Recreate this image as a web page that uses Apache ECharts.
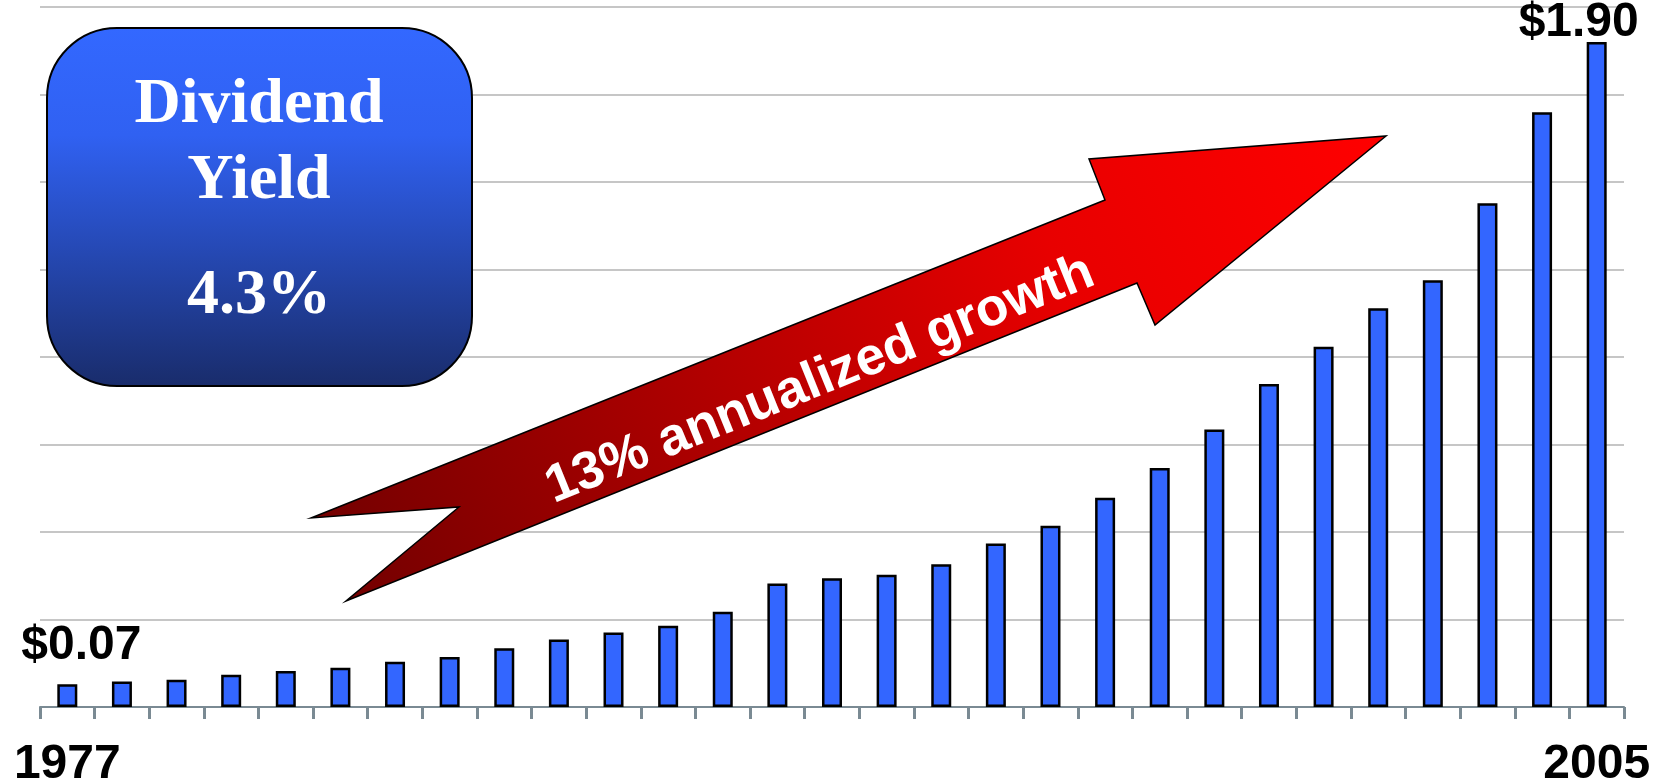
<!DOCTYPE html>
<html>
<head>
<meta charset="utf-8">
<title>Dividend growth 1977-2005</title>
<script src="https://cdn.jsdelivr.net/npm/echarts@6.0.0/dist/echarts.min.js"></script>
<style>
  html, body { margin: 0; padding: 0; background: #fff; }
  #chart_dividend { width: 1663px; height: 782px; }
</style>
</head>
<body>
<div id="chart_dividend"></div>
<script>
// annual dividend per share
var years = ['1977', '1978', '1979', '1980', '1981', '1982', '1983', '1984', '1985', '1986',
  '1987', '1988', '1989', '1990', '1991', '1992', '1993', '1994', '1995', '1996',
  '1997', '1998', '1999', '2000', '2001', '2002', '2003', '2004', '2005'];
var dividends = [0.065, 0.073, 0.078, 0.092, 0.103, 0.112, 0.129, 0.143, 0.168, 0.193,
  0.213, 0.232, 0.272, 0.353, 0.368, 0.378, 0.408, 0.467, 0.518, 0.598,
  0.683, 0.793, 0.923, 1.029, 1.139, 1.219, 1.439, 1.699, 1.90];
var endLabels = ['$0.07', '$1.90'];
var yieldText = ['Dividend', 'Yield', '4.3%'];
var growthText = '13% annualized growth';

var myChart = echarts.init(document.getElementById('chart_dividend'));

var labelFont = {
  show: true,
  position: 'top',
  distance: 0,
  color: '#000',
  fontFamily: 'Liberation Sans, Arial, sans-serif',
  fontWeight: 'bold',
  fontSize: 48
};

var barData = dividends.map(function (v, i) {
  if (i === 0) {
    return { value: v, label: Object.assign({}, labelFont, { formatter: endLabels[0], offset: [14, -14] }) };
  }
  if (i === dividends.length - 1) {
    return { value: v, label: Object.assign({}, labelFont, { formatter: endLabels[1], offset: [-18, 5] }) };
  }
  return v;
});

var serif = 'Liberation Serif, Times New Roman, serif';

var option = {
  animation: false,
  grid: { left: 40, right: 39, top: 7, bottom: 75, outerBoundsMode: 'none' },
  xAxis: {
    type: 'category',
    data: years,
    axisLine: { lineStyle: { color: '#7a8a93', width: 2 } },
    axisTick: { show: true, interval: 0, length: 12, lineStyle: { color: '#7a8a93', width: 3 } },
    axisLabel: {
      interval: function (index) { return index === 0 || index === years.length - 1; },
      margin: 34,
      color: '#000',
      fontFamily: 'Liberation Sans, Arial, sans-serif',
      fontWeight: 'bold',
      fontSize: 48
    }
  },
  yAxis: {
    type: 'value',
    min: 0,
    max: 2,
    interval: 0.25,
    axisLabel: { show: false },
    axisLine: { show: false },
    axisTick: { show: false },
    splitLine: { lineStyle: { color: '#c6c6c6', width: 2 } }
  },
  series: [
    {
      name: 'Dividend',
      type: 'bar',
      barWidth: 20,
      itemStyle: { color: '#3366ff', borderColor: '#000', borderWidth: 2.5 },
      data: barData
    }
  ],
  graphic: [
    {
      type: 'rect',
      z: 100,
      shape: { x: 47, y: 28, width: 425, height: 358, r: 70 },
      style: {
        fill: new echarts.graphic.LinearGradient(0, 0, 0, 1, [
          { offset: 0, color: '#3368ff' },
          { offset: 0.3, color: '#3061f2' },
          { offset: 1, color: '#192c6b' }
        ]),
        stroke: '#000',
        lineWidth: 2
      }
    },
    {
      type: 'text', z: 101, x: 259, y: 105,
      style: { text: yieldText[0], fill: '#fff', font: 'bold 64px ' + serif, align: 'center', verticalAlign: 'middle' }
    },
    {
      type: 'text', z: 101, x: 259, y: 181,
      style: { text: yieldText[1], fill: '#fff', font: 'bold 64px ' + serif, align: 'center', verticalAlign: 'middle' }
    },
    {
      type: 'text', z: 101, x: 259, y: 296,
      style: { text: yieldText[2], fill: '#fff', font: 'bold 64px ' + serif, align: 'center', verticalAlign: 'middle' }
    },
    {
      type: 'polygon',
      z: 100,
      shape: {
        points: [[311, 518], [1105, 200], [1089, 159], [1386, 136], [1155, 325],
          [1137, 283], [346, 601], [459, 507]]
      },
      style: {
        fill: new echarts.graphic.LinearGradient(0, 1, 1, 0, [
          { offset: 0, color: '#6e0000' },
          { offset: 0.7, color: '#e80000' },
          { offset: 1, color: '#ff0000' }
        ]),
        stroke: '#000',
        lineWidth: 1.5
      }
    },
    {
      type: 'text',
      z: 101,
      x: 820,
      y: 380,
      rotation: 22 * Math.PI / 180,
      style: {
        text: growthText,
        fill: '#fff',
        font: 'bold 53px Liberation Sans, Arial, sans-serif',
        align: 'center',
        verticalAlign: 'middle'
      }
    }
  ]
};

myChart.setOption(option);
window.addEventListener('resize', function () {
  myChart.resize();
});
</script>
</body>
</html>
